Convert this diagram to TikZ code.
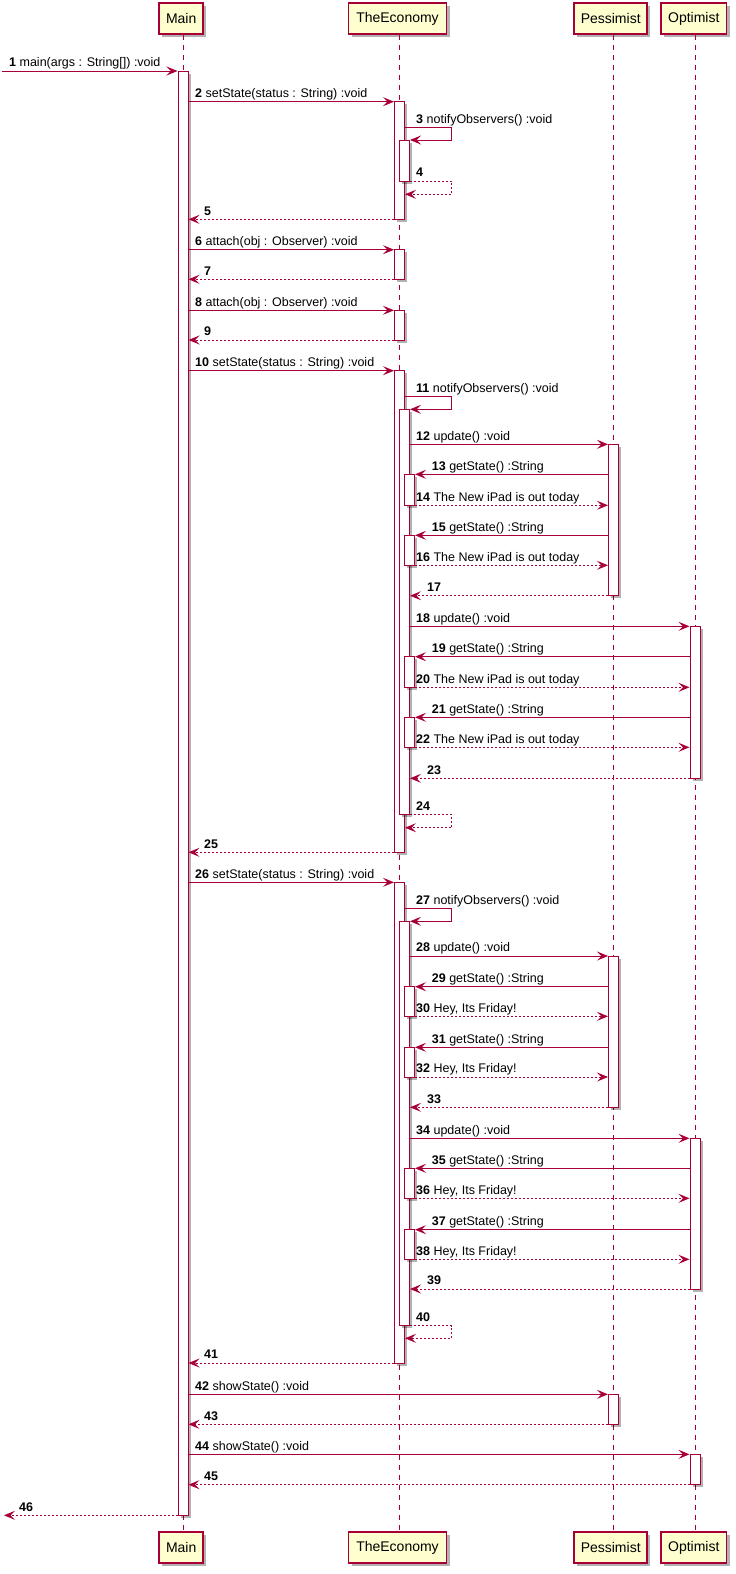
\documentclass[tikz,border=0pt]{standalone}
\usepackage{fontspec}
\setmainfont{Liberation Sans}
\usetikzlibrary{arrows.meta,shadows}
\definecolor{umlred}{HTML}{A80036}
\definecolor{umlyellow}{HTML}{FEFECE}

% activation bar: name, x centre, top y, bottom y
\newcommand\actv[4]{\node[actbox, minimum height={#4-#3}] (#1) at (#2,{(#3+#4)/2}) {};}
% message: style, from, to, y, label x, number, text
\newcommand\msgr[7]{%
  \draw[#1] (#2 |- 0,#4) -- (#3 |- 0,#4);
  \node[lbl] (t#6) at (#5,#4-4.3) {\textbf{#6} #7};}
% self message: style, from, to, top y, bottom y, number, text
\newcommand\selfmsg[7]{%
  \draw[#1] (#2 |- 0,#4) -- (loopx |- 0,#4) -- (loopx |- 0,#5) -- (#3 |- 0,#5);
  \node[lbl] (t#6) at (416,#4-4.3) {\textbf{#6} #7};}

\begin{document}
\begin{tikzpicture}[x=1pt,y=-1pt,
  part/.style={draw=umlred, fill=umlyellow, line width=1.5pt, inner sep=0pt,
    minimum height=31pt, font=\fontsize{14}{16}\selectfont,
    drop shadow={shadow xshift=3pt, shadow yshift=-3pt, opacity=0.3, fill=black}},
  life/.style={draw=umlred, line width=1pt, dash pattern=on 5pt off 5pt},
  actbox/.style={draw=umlred, fill=white, line width=1pt, minimum width=10pt, inner sep=0pt,
    drop shadow={shadow xshift=2.5pt, shadow yshift=-2.5pt, opacity=0.3, fill=black}},
  msgline/.style={draw=umlred, line width=1pt, -{Stealth[length=11pt,width=9pt,inset=4.5pt]}},
  retline/.style={msgline, dash pattern=on 2pt off 2pt},
  lbl/.style={anchor=base west, inner sep=0pt, font=\fontsize{12.5}{15}\selectfont},
]
\useasboundingbox (0,0) rectangle (736,1574);
\fill[white] (0,0) rectangle (736,1574);

% lifeline positions and free ends
\coordinate (xM) at (183,0);
\coordinate (xE) at (399,0);
\coordinate (xP) at (613,0);
\coordinate (xO) at (695,0);
\coordinate (entry) at (2,0);
\coordinate (exit) at (4,0);
\coordinate (loopx) at (451.7,0);

% participants, top and bottom
\node[part, minimum width=44pt] (mainT) at (181.2,18.7) {Main};
\node[part, minimum width=98pt] (econT) at (397.5,18.7) {TheEconomy};
\node[part, minimum width=73pt] (pessT) at (610.7,18.7) {Pessimist};
\node[part, minimum width=65.5pt] (optT) at (693.8,18.7) {Optimist};
\node[part, minimum width=44pt] (mainB) at (181.2,1547.5) {Main};
\node[part, minimum width=98pt] (econB) at (397.5,1547.5) {TheEconomy};
\node[part, minimum width=73pt] (pessB) at (610.7,1547.5) {Pessimist};
\node[part, minimum width=65.5pt] (optB) at (693.8,1547.5) {Optimist};

% lifelines
\draw[life] (xM |- mainT.south) -- (xM |- mainB.north);
\draw[life] (xE |- econT.south) -- (xE |- econB.north);
\draw[life] (xP |- pessT.south) -- (xP |- pessB.north);
\draw[life] (xO |- optT.south) -- (xO |- optB.north);

% activations
\actv{mA}{183}{71}{1515.3}
\actv{eA1}{399.5}{101.7}{219.3}
\actv{eA2}{399.5}{249.7}{279.3}
\actv{eA3}{399.5}{310.3}{340}
\actv{eA4}{399.5}{370.7}{852.3}
\actv{eA5}{399.5}{882.3}{1363}
\actv{eB1}{404.5}{140}{181}
\actv{eB2}{404.5}{409.3}{814.3}
\actv{eB3}{404.5}{921.3}{1325.7}
\actv{eC1}{409.5}{474.3}{505.3}
\actv{eC2}{409.5}{535.3}{565.3}
\actv{eC3}{409.5}{656.7}{687.3}
\actv{eC4}{409.5}{717.3}{747.3}
\actv{eC5}{409.5}{986.7}{1016.3}
\actv{eC6}{409.5}{1047.3}{1077}
\actv{eC7}{409.5}{1168.3}{1198.3}
\actv{eC8}{409.5}{1229.7}{1259.3}
\actv{pA1}{613.5}{444.3}{595.7}
\actv{pA2}{613.5}{956}{1107.3}
\actv{pA3}{613.5}{1394.3}{1424.3}
\actv{oA1}{695}{626.3}{778.3}
\actv{oA2}{695}{1138.3}{1289}
\actv{oA3}{695}{1454.3}{1484.7}

% messages
\msgr{msgline}{entry}{mA.west}{71}{9}{1}{main(args : String[]) :void}
\msgr{msgline}{mA.east}{eA1.west}{101.7}{195}{2}{setState(status : String) :void}
\selfmsg{msgline}{eA1.east}{eB1.east}{127.7}{140}{3}{notifyObservers() :void}
\selfmsg{retline}{eB1.east}{eA1.east}{181}{194.3}{4}{}
\msgr{retline}{eA1.west}{mA.east}{219.3}{204}{5}{}
\msgr{msgline}{mA.east}{eA2.west}{249.7}{195}{6}{attach(obj : Observer) :void}
\msgr{retline}{eA2.west}{mA.east}{279.3}{204}{7}{}
\msgr{msgline}{mA.east}{eA3.west}{310.3}{195}{8}{attach(obj : Observer) :void}
\msgr{retline}{eA3.west}{mA.east}{340}{204}{9}{}
\msgr{msgline}{mA.east}{eA4.west}{370.7}{195}{10}{setState(status : String) :void}
\selfmsg{msgline}{eA4.east}{eB2.east}{396.7}{409.3}{11}{notifyObservers() :void}
\msgr{msgline}{eB2.east}{pA1.west}{444.3}{416}{12}{update() :void}
\msgr{msgline}{pA1.west}{eC1.east}{474.3}{431.7}{13}{getState() :String}
\msgr{retline}{eC1.east}{pA1.west}{505.3}{416}{14}{The New iPad is out today}
\msgr{msgline}{pA1.west}{eC2.east}{535.3}{431.7}{15}{getState() :String}
\msgr{retline}{eC2.east}{pA1.west}{565.3}{416}{16}{The New iPad is out today}
\msgr{retline}{pA1.west}{eB2.east}{595.7}{427}{17}{}
\msgr{msgline}{eB2.east}{oA1.west}{626.3}{416}{18}{update() :void}
\msgr{msgline}{oA1.west}{eC3.east}{656.7}{431.7}{19}{getState() :String}
\msgr{retline}{eC3.east}{oA1.west}{687.3}{416}{20}{The New iPad is out today}
\msgr{msgline}{oA1.west}{eC4.east}{717.3}{431.7}{21}{getState() :String}
\msgr{retline}{eC4.east}{oA1.west}{747.3}{416}{22}{The New iPad is out today}
\msgr{retline}{oA1.west}{eB2.east}{778.3}{427}{23}{}
\selfmsg{retline}{eB2.east}{eA4.east}{814.3}{827.7}{24}{}
\msgr{retline}{eA4.west}{mA.east}{852.3}{204}{25}{}
\msgr{msgline}{mA.east}{eA5.west}{882.3}{195}{26}{setState(status : String) :void}
\selfmsg{msgline}{eA5.east}{eB3.east}{908.3}{921.3}{27}{notifyObservers() :void}
\msgr{msgline}{eB3.east}{pA2.west}{956}{416}{28}{update() :void}
\msgr{msgline}{pA2.west}{eC5.east}{986.7}{431.7}{29}{getState() :String}
\msgr{retline}{eC5.east}{pA2.west}{1016.3}{416}{30}{Hey, Its Friday!}
\msgr{msgline}{pA2.west}{eC6.east}{1047.3}{431.7}{31}{getState() :String}
\msgr{retline}{eC6.east}{pA2.west}{1077}{416}{32}{Hey, Its Friday!}
\msgr{retline}{pA2.west}{eB3.east}{1107.3}{427}{33}{}
\msgr{msgline}{eB3.east}{oA2.west}{1138.3}{416}{34}{update() :void}
\msgr{msgline}{oA2.west}{eC7.east}{1168.3}{431.7}{35}{getState() :String}
\msgr{retline}{eC7.east}{oA2.west}{1198.3}{416}{36}{Hey, Its Friday!}
\msgr{msgline}{oA2.west}{eC8.east}{1229.7}{431.7}{37}{getState() :String}
\msgr{retline}{eC8.east}{oA2.west}{1259.3}{416}{38}{Hey, Its Friday!}
\msgr{retline}{oA2.west}{eB3.east}{1289}{427}{39}{}
\selfmsg{retline}{eB3.east}{eA5.east}{1325.7}{1338.3}{40}{}
\msgr{retline}{eA5.west}{mA.east}{1363}{204}{41}{}
\msgr{msgline}{mA.east}{pA3.west}{1394.3}{195}{42}{showState() :void}
\msgr{retline}{pA3.west}{mA.east}{1424.3}{204}{43}{}
\msgr{msgline}{mA.east}{oA3.west}{1454.3}{195}{44}{showState() :void}
\msgr{retline}{oA3.west}{mA.east}{1484.7}{204}{45}{}
\msgr{retline}{mA.west}{exit}{1515.3}{19}{46}{}
\end{tikzpicture}
\end{document}
